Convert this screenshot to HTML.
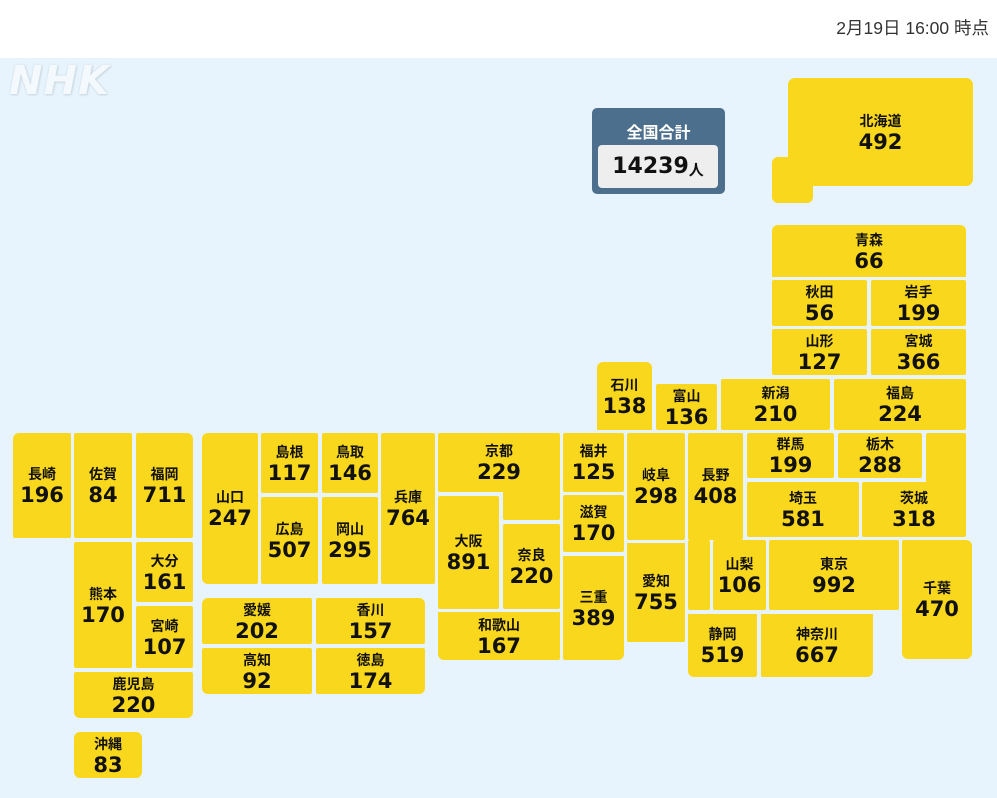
<!DOCTYPE html>
<html><head><meta charset="utf-8">
<style>
*{margin:0;padding:0;box-sizing:border-box}
body{width:997px;height:798px;position:relative;overflow:hidden;background:#fff;font-family:"Liberation Sans","Noto Sans CJK JP",sans-serif}
#map{position:absolute;left:0;top:58px;width:997px;height:740px;background:#e8f4fd}
.t{position:absolute;background:#f9d71c;display:flex;flex-direction:column;align-items:center;justify-content:center;color:#111;border-radius:2px}
.t b{display:block;font-size:14px;line-height:20px;font-weight:bold;font-family:"Noto Sans CJK JP",sans-serif}
.t i{display:block;font-style:normal;font-size:21px;line-height:23px;font-weight:bold;font-family:"DejaVu Sans",sans-serif}
#date{position:absolute;right:8px;top:15px;font-size:17.5px;color:#333}
#logo{position:absolute;left:9px;top:58px;font:italic bold 40px "DejaVu Sans",sans-serif;color:#f3f9fd;text-shadow:0 0 2px #c9d6df,1px 1px 2px #c9d6df;letter-spacing:1px}
#tot{position:absolute;left:592px;top:108px;width:133px;height:86px;background:#4b6f8c;border-radius:5px}
#tot .h{position:absolute;left:0;width:133px;top:11px;text-align:center;color:#fff;font:bold 16px "Noto Sans CJK JP",sans-serif}
#tot .v{position:absolute;left:6px;top:37px;width:120px;height:43px;background:#eeeeee;border-radius:4px;display:flex;align-items:center;justify-content:center;font:bold 22px "DejaVu Sans",sans-serif;color:#111}
#tot .v span{font-size:15px;font-family:"Noto Sans CJK JP",sans-serif;margin-top:6px}
</style></head><body>
<div id="date">2月19日 16:00 時点</div>
<div id="map"></div>
<div id="logo">NHK</div>
<div id="tot"><div class="h">全国合計</div><div class="v">14239<span>人</span></div></div>

<div class="t" style="left:772px;top:157px;width:41px;height:46px;border-radius:6px"></div>
<div class="t" style="left:788px;top:78px;width:185px;height:108px;border-radius:7px"><b>北海道</b><i>492</i></div>
<div class="t" style="left:772px;top:225px;width:194px;height:52px;border-radius:6px 6px 0 0"><b>青森</b><i>66</i></div>
<div class="t" style="left:772px;top:280px;width:95px;height:46px"><b>秋田</b><i>56</i></div>
<div class="t" style="left:871px;top:280px;width:95px;height:46px"><b>岩手</b><i>199</i></div>
<div class="t" style="left:772px;top:329px;width:95px;height:46px"><b>山形</b><i>127</i></div>
<div class="t" style="left:871px;top:329px;width:95px;height:46px"><b>宮城</b><i>366</i></div>
<div class="t" style="left:721px;top:379px;width:109px;height:51px"><b>新潟</b><i>210</i></div>
<div class="t" style="left:834px;top:379px;width:132px;height:51px"><b>福島</b><i>224</i></div>
<div class="t" style="left:597px;top:362px;width:55px;height:68px;border-radius:6px 6px 0 0"><b>石川</b><i>138</i></div>
<div class="t" style="left:656px;top:384px;width:61px;height:46px"><b>富山</b><i>136</i></div>
<div class="t" style="left:688px;top:540px;width:22px;height:70px"></div>
<div class="t" style="left:688px;top:433px;width:55px;height:107px"><b>長野</b><i>408</i></div>
<div class="t" style="left:747px;top:433px;width:87px;height:45px"><b>群馬</b><i>199</i></div>
<div class="t" style="left:838px;top:433px;width:84px;height:45px"><b>栃木</b><i>288</i></div>
<div class="t" style="left:926px;top:433px;width:40px;height:60px"></div>
<div class="t" style="left:862px;top:482px;width:104px;height:55px"><b>茨城</b><i>318</i></div>
<div class="t" style="left:747px;top:482px;width:112px;height:55px"><b>埼玉</b><i>581</i></div>
<div class="t" style="left:713px;top:540px;width:53px;height:70px"><b>山梨</b><i>106</i></div>
<div class="t" style="left:769px;top:540px;width:130px;height:70px"><b>東京</b><i>992</i></div>
<div class="t" style="left:902px;top:540px;width:70px;height:119px;border-radius:2px 6px 6px 6px"><b>千葉</b><i>470</i></div>
<div class="t" style="left:688px;top:614px;width:69px;height:63px;border-radius:0 0 2px 6px"><b>静岡</b><i>519</i></div>
<div class="t" style="left:761px;top:614px;width:112px;height:63px;border-radius:0 0 6px 2px"><b>神奈川</b><i>667</i></div>
<div class="t" style="left:627px;top:433px;width:58px;height:107px"><b>岐阜</b><i>298</i></div>
<div class="t" style="left:627px;top:543px;width:58px;height:99px;border-radius:0 0 2px 2px"><b>愛知</b><i>755</i></div>
<div class="t" style="left:563px;top:433px;width:61px;height:59px"><b>福井</b><i>125</i></div>
<div class="t" style="left:563px;top:495px;width:61px;height:57px"><b>滋賀</b><i>170</i></div>
<div class="t" style="left:563px;top:556px;width:61px;height:104px;border-radius:0 0 6px 2px"><b>三重</b><i>389</i></div>
<div class="t" style="left:503px;top:488px;width:57px;height:32px"></div>
<div class="t" style="left:438px;top:433px;width:122px;height:59px"><b>京都</b><i>229</i></div>
<div class="t" style="left:438px;top:496px;width:61px;height:113px"><b>大阪</b><i>891</i></div>
<div class="t" style="left:503px;top:524px;width:57px;height:85px"><b>奈良</b><i>220</i></div>
<div class="t" style="left:438px;top:612px;width:122px;height:48px;border-radius:0 0 2px 6px"><b>和歌山</b><i>167</i></div>
<div class="t" style="left:381px;top:433px;width:54px;height:151px"><b>兵庫</b><i>764</i></div>
<div class="t" style="left:202px;top:433px;width:56px;height:151px;border-radius:6px 2px 2px 6px"><b>山口</b><i>247</i></div>
<div class="t" style="left:261px;top:433px;width:57px;height:60px"><b>島根</b><i>117</i></div>
<div class="t" style="left:322px;top:433px;width:56px;height:60px"><b>鳥取</b><i>146</i></div>
<div class="t" style="left:261px;top:497px;width:57px;height:87px"><b>広島</b><i>507</i></div>
<div class="t" style="left:322px;top:497px;width:56px;height:87px"><b>岡山</b><i>295</i></div>
<div class="t" style="left:202px;top:598px;width:110px;height:46px;border-radius:6px 2px 2px 2px"><b>愛媛</b><i>202</i></div>
<div class="t" style="left:316px;top:598px;width:109px;height:46px;border-radius:2px 6px 2px 2px"><b>香川</b><i>157</i></div>
<div class="t" style="left:202px;top:648px;width:110px;height:46px;border-radius:2px 2px 2px 6px"><b>高知</b><i>92</i></div>
<div class="t" style="left:316px;top:648px;width:109px;height:46px;border-radius:2px 2px 6px 2px"><b>徳島</b><i>174</i></div>
<div class="t" style="left:13px;top:433px;width:58px;height:105px;border-radius:6px 2px 2px 2px"><b>長崎</b><i>196</i></div>
<div class="t" style="left:74px;top:433px;width:58px;height:105px"><b>佐賀</b><i>84</i></div>
<div class="t" style="left:136px;top:433px;width:57px;height:105px;border-radius:2px 6px 2px 2px"><b>福岡</b><i>711</i></div>
<div class="t" style="left:74px;top:542px;width:58px;height:126px"><b>熊本</b><i>170</i></div>
<div class="t" style="left:136px;top:542px;width:57px;height:60px"><b>大分</b><i>161</i></div>
<div class="t" style="left:136px;top:606px;width:57px;height:62px"><b>宮崎</b><i>107</i></div>
<div class="t" style="left:74px;top:672px;width:119px;height:46px;border-radius:2px 2px 6px 6px"><b>鹿児島</b><i>220</i></div>
<div class="t" style="left:74px;top:732px;width:68px;height:46px;border-radius:6px"><b>沖縄</b><i>83</i></div>
</body></html>
